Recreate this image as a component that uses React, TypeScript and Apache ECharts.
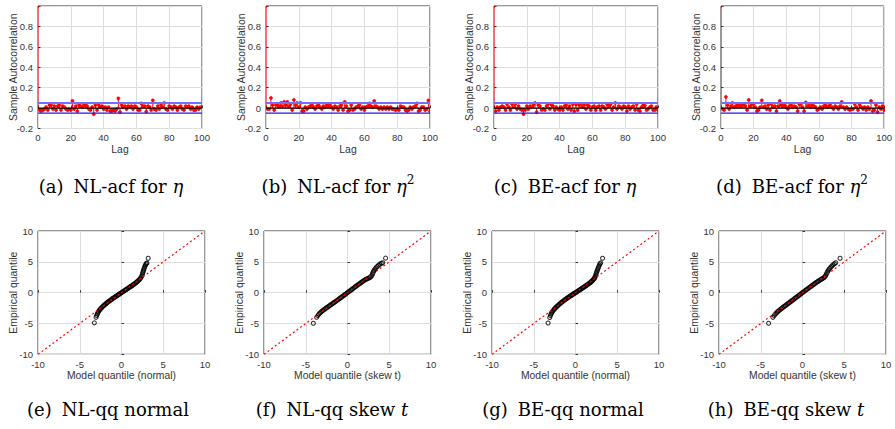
import React, { useEffect, useRef } from 'react';
import * as echarts from 'echarts';

// ---------- DATA ----------
const lagMax = 100;
const acfBound = 0.05;

// sample autocorrelations, lag 0..100
const acfNLeta = [1,
  -0.02, -0.03, -0.02, -0.01, 0.01, -0.02, 0.03, 0.03, -0.01, 0.02,
  -0.02, 0.02, 0.03, -0.02, 0.02, 0.01, -0.01, -0.02, -0.01, -0.02,
  0.07, -0.01, 0.02, -0.03, 0.03, 0.02, 0.01, 0.03, 0.03, 0.02,
  -0.01, -0.02, 0.01, -0.06, 0.03, -0.02, 0.03, 0.01, 0.02, -0.01,
  0.01, -0.02, 0.01, -0.03, -0.03, -0.02, -0.03, -0.01, 0.095, -0.04,
  0.03, 0.01, 0.02, -0.01, 0.02, 0.01, 0.02, -0.01, 0.02, 0.01,
  -0.02, -0.02, 0.045, 0.02, 0.02, -0.035, 0.02, 0.01, -0.02, 0.075,
  -0.01, -0.02, 0.02, -0.01, 0.03, 0.01, 0.05, -0.01, -0.02, 0.02,
  0.01, -0.01, 0.02, 0.01, -0.02, 0.01, 0.02, -0.01, -0.02, 0.02,
  0.01, 0.02, -0.01, 0.01, -0.02, -0.02, 0.01, -0.01, 0.01, 0.01];

const acfNLeta2 = [1,
  -0.01, -0.01, 0.10, 0.03, -0.02, 0.03, 0.04, 0.02, 0.05, 0.02,
  0.06, 0.03, 0.06, 0.02, 0.04, -0.02, 0.08, 0.03, 0.05, 0.01,
  0.05, -0.03, -0.03, 0.01, -0.01, 0.01, 0.02, 0.03, 0.01, -0.01,
  0.02, 0.03, 0.01, -0.01, 0.02, 0.01, 0.03, 0.02, 0.03, 0.01,
  -0.01, 0.02, 0.01, -0.02, 0.02, 0.03, -0.02, 0.06, 0.02, -0.03,
  -0.02, 0.03, -0.02, -0.01, 0.01, 0.02, 0.03, -0.01, 0.01, -0.02,
  0.01, 0.02, 0.045, 0.02, 0.01, 0.07, 0.02, 0.01, -0.01, 0.01,
  -0.01, 0.01, -0.01, 0.01, -0.01, 0.01, -0.01, -0.01, -0.02, -0.01,
  -0.02, 0.02, 0.01, 0.01, -0.02, -0.03, -0.02, 0.01, -0.01, 0.01,
  0.02, 0.045, -0.03, -0.02, 0.01, 0.01, -0.02, -0.01, 0.075, -0.03];

const acfBEeta = [1,
  -0.03, 0.01, -0.02, 0.01, 0.02, 0.01, -0.02, 0.04, 0.01, -0.02,
  0.04, 0.01, 0.04, -0.01, 0.02, -0.01, -0.02, -0.06, -0.02, 0.02,
  -0.01, 0.02, 0.01, 0.03, 0.05, -0.04, 0.03, 0.02, -0.02, -0.01,
  -0.02, 0.02, 0.04, -0.01, 0.035, 0.02, -0.02, 0.01, -0.01, -0.02,
  0.01, -0.02, 0.02, 0.03, -0.01, 0.02, -0.02, 0.04, -0.03, 0.035,
  -0.02, 0.03, 0.04, 0.01, 0.03, -0.01, 0.03, 0.02, -0.02, 0.01,
  0.02, -0.02, 0.01, 0.02, -0.02, 0.02, 0.01, -0.01, 0.035, 0.02,
  0.035, -0.02, 0.01, 0.05, -0.01, 0.02, 0.01, -0.01, 0.02, 0.01,
  -0.03, 0.02, -0.01, 0.01, 0.02, -0.02, 0.04, -0.02, -0.03, 0.01,
  0.03, 0.025, -0.02, -0.01, 0.01, 0.02, -0.02, -0.02, 0.01, -0.02];

const acfBEeta2 = [1,
  -0.01, -0.02, 0.11, 0.03, -0.01, 0.02, 0.05, 0.01, 0.02, 0.03,
  0.03, 0.02, 0.03, 0.04, 0.02, -0.02, 0.08, 0.02, 0.04, 0.04,
  0.01, -0.03, -0.02, 0.01, 0.075, 0.01, 0.02, -0.01, 0.03, -0.02,
  0.04, 0.01, 0.02, -0.03, 0.02, 0.07, 0.03, 0.02, 0.03, 0.01,
  -0.01, 0.02, 0.03, 0.01, 0.02, 0.01, -0.03, 0.04, 0.04, 0.01,
  -0.03, 0.055, 0.02, 0.03, 0.01, 0.03, 0.02, 0.01, -0.02, -0.01,
  0.01, -0.01, 0.02, 0.03, 0.01, 0.02, 0.04, 0.01, -0.01, 0.02,
  0.01, -0.01, 0.02, 0.06, 0.01, -0.01, 0.01, -0.01, -0.02, -0.01,
  -0.01, 0.04, 0.01, -0.02, 0.03, 0.01, -0.01, 0.01, -0.02, 0.01,
  -0.01, 0.07, -0.03, -0.02, 0.03, -0.04, 0.01, -0.01, 0.02, -0.02];

// QQ points [model quantile, empirical quantile]
const qqNLnormal = [[-3.25,-4.9],[-3.05,-4.0],[-2.97,-3.7],[-2.9,-3.45],[-2.83,-3.25],[-2.76,-3.08],[-2.68,-2.92],[-2.6,-2.78],[-2.5,-2.62],[-2.4,-2.47],[-2.3,-2.33],[-2.2,-2.19],[-2.1,-2.07],[-2.0,-1.94],[-1.9,-1.83],[-1.8,-1.72],[-1.7,-1.6],[-1.6,-1.5],[-1.5,-1.39],[-1.4,-1.3],[-1.3,-1.19],[-1.2,-1.1],[-1.1,-0.99],[-1.0,-0.91],[-0.9,-0.81],[-0.8,-0.73],[-0.7,-0.63],[-0.6,-0.55],[-0.5,-0.45],[-0.4,-0.37],[-0.3,-0.27],[-0.2,-0.19],[-0.1,-0.09],[0,0.01],[0.1,0.09],[0.2,0.19],[0.3,0.27],[0.4,0.37],[0.5,0.45],[0.6,0.55],[0.7,0.63],[0.8,0.73],[0.9,0.81],[1.0,0.91],[1.1,0.99],[1.2,1.09],[1.3,1.17],[1.4,1.28],[1.5,1.37],[1.6,1.48],[1.7,1.58],[1.8,1.7],[1.9,1.81],[2.0,1.94],[2.1,2.07],[2.2,2.22],[2.3,2.37],[2.38,2.56],[2.45,2.78],[2.51,3.02],[2.56,3.26],[2.61,3.5],[2.66,3.72],[2.71,3.94],[2.77,4.15],[2.83,4.35],[2.9,4.55],[2.97,4.72],[3.05,4.82],[3.2,5.57]];

const qqNLskewt = [[-4.09,-4.96],[-3.69,-3.98],[-3.56,-3.72],[-3.45,-3.52],[-3.33,-3.35],[-3.2,-3.18],[-3.08,-3.04],[-2.95,-2.9],[-2.82,-2.76],[-2.7,-2.64],[-2.58,-2.52],[-2.45,-2.4],[-2.32,-2.28],[-2.2,-2.16],[-2.08,-2.05],[-1.95,-1.93],[-1.82,-1.81],[-1.7,-1.69],[-1.57,-1.57],[-1.45,-1.45],[-1.32,-1.33],[-1.2,-1.21],[-1.07,-1.09],[-0.95,-0.96],[-0.82,-0.84],[-0.7,-0.71],[-0.57,-0.58],[-0.45,-0.46],[-0.32,-0.33],[-0.2,-0.2],[-0.07,-0.08],[0.05,0.05],[0.18,0.18],[0.3,0.31],[0.43,0.44],[0.55,0.56],[0.68,0.69],[0.8,0.82],[0.93,0.95],[1.05,1.07],[1.18,1.2],[1.3,1.32],[1.43,1.44],[1.55,1.56],[1.68,1.68],[1.8,1.8],[1.93,1.92],[2.05,2.03],[2.18,2.13],[2.3,2.22],[2.43,2.3],[2.56,2.38],[2.68,2.46],[2.8,2.58],[2.9,2.78],[2.98,3.0],[3.05,3.22],[3.12,3.45],[3.2,3.66],[3.3,3.86],[3.42,4.05],[3.56,4.25],[3.72,4.45],[3.88,4.62],[4.05,4.76],[4.22,4.85],[4.56,5.6]];

const qqBEnormal = [[-3.28,-4.93],[-3.08,-4.02],[-3.0,-3.72],[-2.93,-3.47],[-2.86,-3.27],[-2.78,-3.1],[-2.7,-2.95],[-2.61,-2.8],[-2.52,-2.65],[-2.42,-2.5],[-2.32,-2.36],[-2.22,-2.23],[-2.12,-2.1],[-2.02,-1.98],[-1.92,-1.86],[-1.82,-1.74],[-1.72,-1.63],[-1.62,-1.52],[-1.52,-1.41],[-1.42,-1.31],[-1.32,-1.21],[-1.22,-1.11],[-1.12,-1.01],[-1.02,-0.92],[-0.92,-0.83],[-0.82,-0.73],[-0.72,-0.64],[-0.62,-0.55],[-0.52,-0.46],[-0.42,-0.37],[-0.32,-0.28],[-0.22,-0.19],[-0.12,-0.1],[-0.02,-0.01],[0.08,0.07],[0.18,0.16],[0.28,0.25],[0.38,0.34],[0.48,0.43],[0.58,0.52],[0.68,0.61],[0.78,0.7],[0.88,0.79],[0.98,0.88],[1.08,0.97],[1.18,1.06],[1.28,1.15],[1.38,1.24],[1.48,1.34],[1.58,1.44],[1.68,1.54],[1.78,1.65],[1.88,1.76],[1.97,1.88],[2.06,2.0],[2.15,2.13],[2.23,2.27],[2.3,2.43],[2.36,2.62],[2.42,2.84],[2.47,3.06],[2.53,3.3],[2.59,3.53],[2.65,3.76],[2.72,4.0],[2.79,4.25],[2.86,4.48],[2.93,4.68],[3.02,4.83],[3.24,5.58]];

const qqBEskewt = [[-4.06,-4.97],[-3.54,-4.0],[-3.4,-3.72],[-3.28,-3.52],[-3.16,-3.35],[-3.04,-3.18],[-2.92,-3.03],[-2.8,-2.89],[-2.68,-2.76],[-2.56,-2.63],[-2.44,-2.5],[-2.32,-2.37],[-2.2,-2.25],[-2.08,-2.13],[-1.96,-2.0],[-1.84,-1.88],[-1.72,-1.76],[-1.6,-1.63],[-1.48,-1.51],[-1.36,-1.39],[-1.24,-1.27],[-1.12,-1.14],[-1.0,-1.02],[-0.88,-0.9],[-0.76,-0.77],[-0.64,-0.65],[-0.52,-0.53],[-0.4,-0.41],[-0.28,-0.28],[-0.16,-0.16],[-0.04,-0.04],[0.08,0.08],[0.2,0.21],[0.32,0.33],[0.44,0.45],[0.56,0.57],[0.68,0.69],[0.8,0.81],[0.92,0.93],[1.04,1.05],[1.16,1.17],[1.28,1.29],[1.4,1.41],[1.52,1.52],[1.64,1.64],[1.76,1.75],[1.88,1.86],[2.0,1.97],[2.12,2.07],[2.24,2.17],[2.36,2.26],[2.48,2.36],[2.6,2.47],[2.7,2.62],[2.79,2.82],[2.87,3.05],[2.95,3.28],[3.04,3.5],[3.14,3.72],[3.25,3.92],[3.38,4.12],[3.52,4.32],[3.67,4.52],[3.82,4.7],[3.98,4.84],[4.5,5.57]];

const qqRefLine = [[-10, -10], [10, 10]];

const acfSets = [acfNLeta, acfNLeta2, acfBEeta, acfBEeta2];
const qqSets = [qqNLnormal, qqNLskewt, qqBEnormal, qqBEskewt];
const qqXNames = ['Model quantile (normal)', 'Model quantile (skew t)', 'Model quantile (normal)', 'Model quantile (skew t)'];

const captionsTop = [
  '{t|(a)}{g|}{t|NL-acf for }{i|η}',
  '{t|(b)}{g|}{t|NL-acf for }{i|η}{s|2}',
  '{t|(c)}{g|}{t|BE-acf for }{i|η}',
  '{t|(d)}{g|}{t|BE-acf for }{i|η}{s|2}',
];
const captionsBottom = [
  '{t|(e)}{g|}{t|NL-qq normal}',
  '{t|(f)}{g|}{t|NL-qq skew }{i|t}',
  '{t|(g)}{g|}{t|BE-qq normal}',
  '{t|(h)}{g|}{t|BE-qq skew }{i|t}',
];

// ---------- LAYOUT ----------
const W = 895, H = 429;
const topLefts = [38, 266, 494, 721];
const topWidth = 164;
const botLefts = [38, 264, 492, 719];
const botWidth = 167;
const capTopX = [111, 338, 565, 792];
const capBotX = [108, 332, 563, 786];

const AX = '#333333';
const GRIDC = '#dedede';
const SANS = 'Liberation Sans, Arial, sans-serif';
const SERIF = 'DejaVu Serif, serif';

export default function App() {
  const ref = useRef<HTMLDivElement>(null);
  useEffect(() => {
    document.body.style.margin = '0';
    const chart = echarts.init(ref.current!, null, { renderer: 'svg' });

    const grid: any[] = [];
    const xAxis: any[] = [];
    const yAxis: any[] = [];
    const series: any[] = [];

    const axisCommon = {
      axisLine: { show: false },
      axisTick: { show: true, inside: true, length: 2.5, lineStyle: { color: AX, width: 1 } },
      splitLine: { show: true, lineStyle: { color: GRIDC, width: 1 } },
      nameTextStyle: { fontFamily: SANS, fontSize: 10.4, color: AX },
      nameMoveOverlap: false,
    };

    acfSets.forEach((acf, k) => {
      const gi = grid.length;
      grid.push({
        left: topLefts[k], top: 6, width: topWidth, height: 122.5,
        show: true, borderColor: AX, borderWidth: 1, backgroundColor: '#fff',
      });
      xAxis.push({
        ...axisCommon, gridIndex: gi, type: 'value', min: 0, max: lagMax, interval: 20,
        name: 'Lag', nameLocation: 'middle', nameGap: 16,
        axisLabel: { fontFamily: SANS, fontSize: 9.5, color: AX, margin: 4 },
      });
      yAxis.push({
        ...axisCommon, gridIndex: gi, type: 'value', min: -0.2, max: 1, interval: 0.2,
        name: 'Sample Autocorrelation', nameLocation: 'middle', nameGap: 20,
        axisLabel: {
          fontFamily: SANS, fontSize: 9.5, color: AX, margin: 5,
          formatter: (v: number) => (Math.abs(v - 1) < 1e-9 ? '' : String(Math.round(v * 10) / 10)),
        },
      });
      series.push({
        type: 'custom', xAxisIndex: gi, yAxisIndex: gi, clip: true, z: 3,
        data: acf.map((v, i) => [i, v]),
        renderItem: (params: any, api: any) => {
          const x = api.value(0), y = api.value(1);
          const p0 = api.coord([x, 0]);
          const p1 = api.coord([x, y]);
          return {
            type: 'group',
            children: [
              { type: 'line', shape: { x1: p0[0], y1: p0[1], x2: p1[0], y2: p1[1] }, style: { stroke: '#ff0000', lineWidth: 1 } },
              { type: 'circle', shape: { cx: p1[0], cy: p1[1], r: 1.6 }, style: { fill: '#ff0000', stroke: '#ff0000', lineWidth: 0.5 } },
            ],
          };
        },
      });
      series.push({
        type: 'line', xAxisIndex: gi, yAxisIndex: gi, symbol: 'none', z: 4, silent: true,
        data: [[0, acfBound], [lagMax, acfBound]],
        lineStyle: { color: '#7070ff', width: 2 },
      });
      series.push({
        type: 'line', xAxisIndex: gi, yAxisIndex: gi, symbol: 'none', z: 4, silent: true,
        data: [[0, -acfBound], [lagMax, -acfBound]],
        lineStyle: { color: '#1a1aee', width: 1.3 },
      });
      series.push({
        type: 'line', xAxisIndex: gi, yAxisIndex: gi, symbol: 'none', z: 5, silent: true,
        data: [[0, 0], [lagMax, 0]],
        lineStyle: { color: '#000', width: 1.2 },
      });
    });

    qqSets.forEach((pts, k) => {
      const gi = grid.length;
      grid.push({
        left: botLefts[k], top: 231, width: botWidth, height: 123.3,
        show: true, borderColor: AX, borderWidth: 1, backgroundColor: '#fff',
      });
      xAxis.push({
        ...axisCommon, gridIndex: gi, type: 'value', min: -10, max: 10, interval: 5,
        name: qqXNames[k], nameLocation: 'middle', nameGap: 16,
        axisLabel: { fontFamily: SANS, fontSize: 9.5, color: AX, margin: 5 },
      });
      yAxis.push({
        ...axisCommon, gridIndex: gi, type: 'value', min: -10, max: 10, interval: 5,
        name: 'Empirical quantile', nameLocation: 'middle', nameGap: 20,
        axisLabel: { fontFamily: SANS, fontSize: 9.5, color: AX, margin: 5 },
      });
      series.push({
        type: 'scatter', xAxisIndex: gi, yAxisIndex: gi, z: 3,
        data: pts, symbol: 'circle', symbolSize: 4,
        itemStyle: { color: 'rgba(0,0,0,0)', borderColor: '#000', borderWidth: 1.1 },
      });
      series.push({
        type: 'line', xAxisIndex: gi, yAxisIndex: gi, symbol: 'none', z: 5, silent: true,
        data: qqRefLine,
        lineStyle: { color: '#ff0000', width: 1.2, type: [2, 2.5] },
      });
    });

    const rich = {
      t: { fontFamily: SERIF, fontSize: 18, color: '#000', lineHeight: 25 },
      i: { fontFamily: SERIF, fontSize: 18, fontStyle: 'italic', color: '#000', lineHeight: 25 },
      s: { fontFamily: SERIF, fontSize: 12, color: '#000', lineHeight: 14, verticalAlign: 'top' },
      g: { width: 10, lineHeight: 25 },
    };
    const graphic: any[] = [];
    captionsTop.forEach((c, k) => {
      graphic.push({ type: 'text', x: capTopX[k], y: 186, style: { text: c, rich, align: 'center', verticalAlign: 'middle' } });
    });
    captionsBottom.forEach((c, k) => {
      graphic.push({ type: 'text', x: capBotX[k], y: 409, style: { text: c, rich, align: 'center', verticalAlign: 'middle' } });
    });

    chart.setOption({
      animation: false,
      backgroundColor: '#fff',
      grid, xAxis, yAxis, series, graphic,
    });
    return () => chart.dispose();
  }, []);
  return <div ref={ref} style={{ width: W, height: H }} />;
}
